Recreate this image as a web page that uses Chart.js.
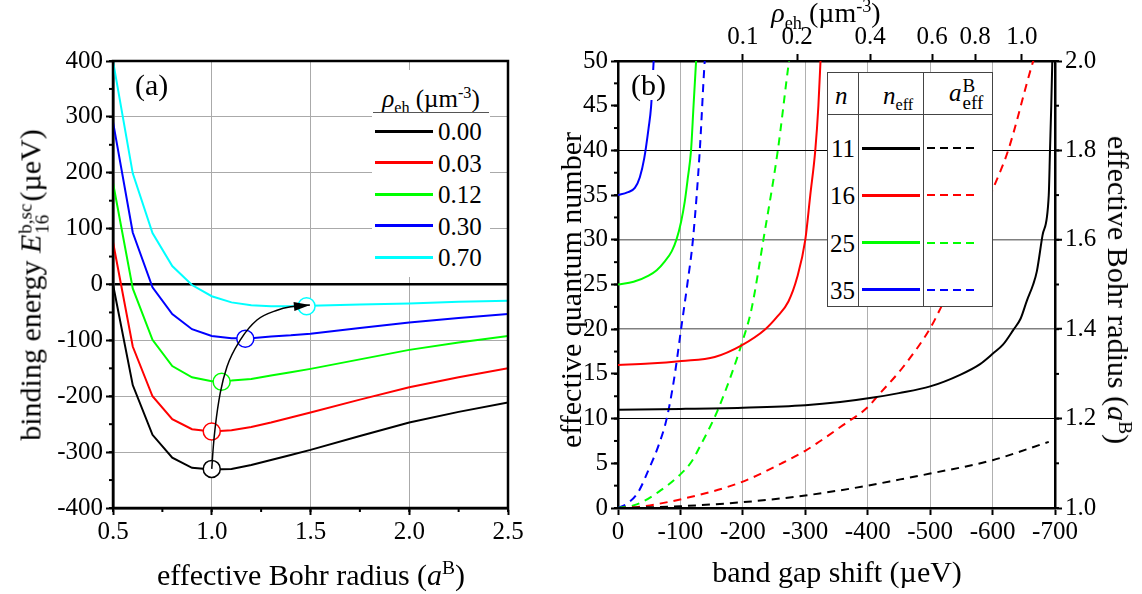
<!DOCTYPE html>
<html>
<head>
<meta charset="utf-8">
<script src="https://cdn.jsdelivr.net/npm/chart.js@4.4.1/dist/chart.umd.min.js"></script>
<style>
  body { margin: 0; background: #fff; overflow: hidden; }
  #wrap { position: relative; width: 1142px; height: 594px; font-family: 'Liberation Serif', 'Times New Roman', serif; color: #000; }
  canvas { position: absolute; top: 0; }
  .t { position: absolute; white-space: nowrap; line-height: 1; }
  .title { font-size: 30px; transform: translate(-50%, -50%); }
  .rotl { transform: translate(-50%, -50%) rotate(-90deg); }
  .rotr { transform: translate(-50%, -50%) rotate(90deg); }
  .stack { display: inline-block; vertical-align: -8px; font-size: 19px; line-height: 17px; margin: 0 2px 0 1px; }
  .stack span { display: block; }
  sub, sup { font-size: 65%; line-height: 0; }
  .panel { position: absolute; font-size: 30px; background: #fff; padding: 0 2px; }
  #legA { position: absolute; left: 372px; top: 70px; width: 118px; height: 207px; background: #fff; font-size: 25px; }
  #legA .head { position: absolute; left: 0; width: 118px; top: 16px; text-align: center; }
  #legA .rule { position: absolute; left: 1px; width: 116px; top: 42px; height: 0; border-top: 1.5px solid #555; }
  .swatch { position: absolute; height: 3px; }
  .dash { position: absolute; height: 2px; }
  #legB { position: absolute; left: 827px; top: 72px; width: 166px; height: 235px; background: #fff; border: 1.5px solid #444; box-sizing: border-box; font-size: 25px; }
  #legB .vl { position: absolute; top: 0; bottom: 0; width: 0; border-left: 1.5px solid #444; }
  #legB .hl { position: absolute; left: 0; right: 0; top: 41px; height: 0; border-top: 1.5px solid #444; }
</style>
</head>
<body>
<div id="wrap">
  <canvas id="chartA" width="560" height="594" style="left:0"></canvas>
  <canvas id="chartB" width="582" height="594" style="left:560px"></canvas>

  <div class="t panel" style="left:133px; top:70px;">(a)</div>
  <div class="t panel" style="left:629px; top:70px;">(b)</div>

  <div class="t title rotl" style="left:33px; top:285px;">binding energy <i>E</i><span class="stack"><span>b,sc</span><span>16</span></span>(µeV)</div>
  <div class="t title" style="left:311px; top:575px;">effective Bohr radius (<i>a</i><sup>B</sup>)</div>

  <div class="t title rotl" style="left:571px; top:290px;">effective quantum number</div>
  <div class="t title rotr" style="left:1118px; top:290px;">effective Bohr radius (<i>a</i><sup>B</sup>)</div>
  <div class="t title" style="left:837px; top:572px;">band gap shift (µeV)</div>
  <div class="t title" style="left:826px; top:13px; font-size:28px;"><i>ρ</i><sub>eh</sub> (µm<sup>-3</sup>)</div>

  <div id="legA">
    <div class="t head"><i>ρ</i><sub>eh</sub> (µm<sup>-3</sup>)</div>
    <div class="rule"></div>
  </div>
  <div id="legB">
    <div class="vl" style="left:30px"></div>
    <div class="vl" style="left:95px"></div>
    <div class="hl"></div>
    <div class="t" style="left:7px; top:10px;"><i>n</i></div>
    <div class="t" style="left:55px; top:10px;"><i>n</i><sub>eff</sub></div>
    <div class="t" style="left:121px; top:4px;"><i>a</i><span class="stack"><span>B</span><span>eff</span></span></div>
  </div>
</div>

<script>
// panel (a): binding energy vs. effective Bohr radius, one curve per density
const bohrRadius = [0.5, 0.6, 0.7, 0.8, 0.9, 1.0, 1.1, 1.2, 1.3, 1.4, 1.5, 1.75, 2.0, 2.25, 2.5];
const bind000 = [0, -180, -269, -310, -328, -331, -330, -323, -314, -305, -296, -271, -247, -228, -211];
const bind003 = [76, -111, -200, -241, -259, -263, -261, -255, -247, -238, -229, -206, -184, -166, -150];
const bind012 = [182, -7, -99, -146, -166, -173, -172, -169, -163, -157, -151, -134, -117, -104, -92];
const bind030 = [291, 93, -5, -53, -80, -92, -96, -96, -93, -91, -88, -78, -68, -60, -53];
const bind070 = [400, 199, 92, 33, -1, -21, -32, -37, -39, -39, -38, -36, -34, -31, -29];
const densityLabels = ['0.00', '0.03', '0.12', '0.30', '0.70'];
const densityColors = ['#000000', '#ff0000', '#00ff00', '#0000ff', '#00ffff'];

// minimum of each curve
const minRadius = [1.0, 1.0, 1.05, 1.17, 1.48];
const minEnergy = [-330, -263, -174, -97, -39];

// arrow through the minima
const arrowX = [1.0, 1.008, 1.018, 1.043, 1.077, 1.145, 1.229, 1.331, 1.40, 1.497];
const arrowY = [-330, -290, -254, -194, -147, -99, -63.5, -46, -40, -36.7];

// panel (b): effective quantum number (left axis) and Bohr radius (right axis) vs. band gap shift
const shiftN11 = [0, -100, -200, -300, -356, -409, -450, -500, -548, -580, -601, -617, -633, -645, -655, -665, -671, -680, -690, -692, -694, -696];
const nEff11 = [11.0, 11.08, 11.22, 11.5, 11.85, 12.35, 12.85, 13.6, 14.9, 16.1, 17.3, 18.3, 19.9, 21.2, 23.2, 25.0, 26.5, 30.5, 35.0, 40.0, 45.0, 51.0];
const shiftA11 = [0, -100, -200, -300, -400, -452, -500, -600, -690];
const aEff11 = [1.0, 1.004, 1.013, 1.028, 1.05, 1.064, 1.077, 1.107, 1.148];

const shiftN16 = [0, -50, -102, -155, -198, -236, -255, -273, -287, -300, -308, -316, -321, -325];
const nEff16 = [16.0, 16.15, 16.44, 16.9, 18.2, 20.0, 21.4, 23.1, 25.8, 30.0, 35.0, 40.0, 45.0, 51.0];
const shiftA16 = [0, -35, -102, -198, -262, -300, -321, -361, -398, -420, -457, -500, -516, -560, -601, -625, -663, -670];
const aEff16 = [1.0, 1.003, 1.02, 1.058, 1.10, 1.128, 1.147, 1.186, 1.223, 1.257, 1.316, 1.402, 1.445, 1.575, 1.715, 1.80, 1.99, 2.02];

const shiftN25 = [0, -25, -49, -62, -75, -86, -94, -101, -107, -112, -117, -121, -125.5];
const nEff25 = [25.0, 25.3, 26.0, 26.6, 27.6, 28.7, 30.1, 32.0, 34.3, 37.0, 40.0, 45.0, 50.5];
const shiftA25 = [0, -30, -65, -99, -118, -131, -161, -201, -214, -233, -256, -273, -275];
const aEff25 = [1.0, 1.008, 1.036, 1.074, 1.104, 1.137, 1.223, 1.38, 1.446, 1.601, 1.80, 1.99, 2.01];

const shiftN35 = [0, -15, -27, -35, -42, -49, -53, -57.5];
const nEff35 = [35.0, 35.3, 35.8, 37.0, 39.1, 42.5, 44.9, 50.5];
const shiftA35 = [0, -15, -32.5, -51, -65, -78, -90, -101, -111, -120, -131, -138, -140];
const aEff35 = [1.0, 1.01, 1.036, 1.092, 1.14, 1.20, 1.29, 1.40, 1.50, 1.60, 1.80, 1.98, 2.02];

const levelN = ['11', '16', '25', '35'];
const levelColors = ['#000000', '#ff0000', '#00ff00', '#0000ff'];

// density scale along the top of panel (b)
const topTickShift = [-200, -287, -404, -503, -572, -647];
const topTickLabels = ['0.1', '0.2', '0.4', '0.6', '0.8', '1.0'];

Chart.defaults.font.family = "'Liberation Serif', 'Times New Roman', serif";
Chart.defaults.font.size = 25;
Chart.defaults.color = '#000';

function pairs(xs, ys) {
  return xs.map((x, i) => ({ x: x, y: ys[i] }));
}

// short ticks between the labelled ones
const minorTicks = {
  id: 'minorTicks',
  afterDraw(chart, args, opts) {
    const ctx = chart.ctx;
    const len = 4;
    ctx.save();
    ctx.strokeStyle = '#000';
    ctx.lineWidth = 2;
    for (const [id, step] of Object.entries(opts.steps || {})) {
      const s = chart.scales[id];
      const n = Math.round((s.max - s.min) / step);
      for (let i = 0; i <= n; i++) {
        const p = s.getPixelForValue(s.min + i * step);
        ctx.beginPath();
        if (s.isHorizontal()) {
          const y0 = s.position === 'top' ? s.bottom : s.top;
          ctx.moveTo(p, y0);
          ctx.lineTo(p, y0 + (s.position === 'top' ? -len : len));
        } else {
          const x0 = s.position === 'left' ? s.right : s.left;
          ctx.moveTo(x0, p);
          ctx.lineTo(x0 + (s.position === 'left' ? -len : len), p);
        }
        ctx.stroke();
      }
    }
    ctx.restore();
  }
};

const frame = {
  id: 'frame',
  afterDraw(chart, args, opts) {
    if (!opts.on) return;
    const a = chart.chartArea;
    const ctx = chart.ctx;
    ctx.save();
    ctx.strokeStyle = '#000';
    ctx.lineWidth = 2.5;
    ctx.strokeRect(a.left, a.top, a.right - a.left, a.bottom - a.top);
    ctx.restore();
  }
};

const arrowHead = {
  id: 'arrowHead',
  afterDatasetsDraw(chart) {
    const idx = chart.data.datasets.findIndex(d => d.arrow);
    if (idx < 0) return;
    const pts = chart.getDatasetMeta(idx).data;
    const a = pts[pts.length - 2], b = pts[pts.length - 1];
    const ang = Math.atan2(b.y - a.y, b.x - a.x);
    const ctx = chart.ctx;
    ctx.save();
    ctx.translate(b.x, b.y);
    ctx.rotate(ang);
    ctx.beginPath();
    ctx.moveTo(0, 0);
    ctx.lineTo(-16, -4.5);
    ctx.lineTo(-16, 4.5);
    ctx.closePath();
    ctx.fillStyle = '#000';
    ctx.fill();
    ctx.restore();
  }
};

const axisBorder = { display: true, color: '#000', width: 2.5 };

// ---------- panel (a) ----------
const curvesA = [bind000, bind003, bind012, bind030, bind070].map((ys, i) => ({
  data: pairs(bohrRadius, ys),
  borderColor: densityColors[i],
  borderWidth: 2,
  pointRadius: 0,
  tension: 0,
  order: 3
}));

new Chart(document.getElementById('chartA'), {
  type: 'line',
  data: {
    datasets: [
      {
        arrow: true,
        data: pairs(arrowX, arrowY),
        borderColor: '#000',
        borderWidth: 1.5,
        pointRadius: 0,
        cubicInterpolationMode: 'monotone',
        order: 0
      },
      {
        data: pairs(minRadius, minEnergy),
        showLine: false,
        pointRadius: 8.5,
        pointBorderWidth: 1.5,
        pointBorderColor: densityColors,
        pointBackgroundColor: '#fff',
        order: 1
      },
      ...curvesA
    ]
  },
  options: {
    responsive: false,
    animation: false,
    events: [],
    layout: { padding: { top: 61, right: 52, left: 0, bottom: 0 } },
    plugins: {
      legend: { display: false },
      tooltip: { enabled: false },
      minorTicks: { steps: { x: 0.25, y: 50 } },
      frame: { on: true }
    },
    scales: {
      x: {
        type: 'linear',
        min: 0.5,
        max: 2.5,
        afterFit: s => { s.height = 86; },
        ticks: { stepSize: 0.5, autoSkip: false, maxRotation: 0, padding: 2, callback: v => v.toFixed(1) },
        grid: { color: '#aaa', lineWidth: 1, tickColor: '#000', tickWidth: 2, tickLength: 7 },
        border: axisBorder
      },
      y: {
        min: -400,
        max: 400,
        afterFit: s => { s.width = 113; },
        ticks: { stepSize: 100, padding: 3 },
        grid: {
          color: c => c.tick.value === 0 ? '#000' : '#aaa',
          lineWidth: c => c.tick.value === 0 ? 2.5 : 1,
          tickColor: '#000', tickWidth: 2, tickLength: 7
        },
        border: axisBorder
      }
    }
  },
  plugins: [minorTicks, frame, arrowHead]
});

// legend rows of panel (a)
const legA = document.getElementById('legA');
densityLabels.forEach((lab, i) => {
  const y = 61 + i * 31.5;
  const sw = document.createElement('div');
  sw.className = 'swatch';
  sw.style.cssText = `left:3px; width:58px; top:${y - 1.5}px; background:${densityColors[i]};`;
  legA.appendChild(sw);
  const tx = document.createElement('div');
  tx.className = 't';
  tx.style.cssText = `left:66px; top:${y - 12}px;`;
  tx.textContent = lab;
  legA.appendChild(tx);
});

// ---------- panel (b) ----------
const curvesB = [];
[[shiftN11, nEff11, shiftA11, aEff11],
 [shiftN16, nEff16, shiftA16, aEff16],
 [shiftN25, nEff25, shiftA25, aEff25],
 [shiftN35, nEff35, shiftA35, aEff35]].forEach(([sn, n, sa, a], i) => {
  curvesB.push({
    data: pairs(sn, n),
    yAxisID: 'y',
    borderColor: levelColors[i],
    borderWidth: 2,
    pointRadius: 0,
    cubicInterpolationMode: 'monotone'
  });
  curvesB.push({
    data: pairs(sa, a),
    yAxisID: 'y2',
    borderColor: levelColors[i],
    borderWidth: 2,
    borderDash: [8, 6],
    pointRadius: 0,
    cubicInterpolationMode: 'monotone'
  });
});

new Chart(document.getElementById('chartB'), {
  type: 'line',
  data: { datasets: curvesB },
  options: {
    responsive: false,
    animation: false,
    events: [],
    layout: { padding: 0 },
    plugins: {
      legend: { display: false },
      tooltip: { enabled: false },
      minorTicks: { steps: { y: 2.5, y2: 0.1 } }
    },
    scales: {
      x: {
        type: 'linear',
        position: 'bottom',
        reverse: true,
        min: -700,
        max: 0,
        afterFit: s => { s.height = 86; },
        ticks: { stepSize: 100, autoSkip: false, maxRotation: 0, padding: 2, callback: v => String(v) },
        grid: { color: '#b0b0b0', lineWidth: 1, tickColor: '#000', tickWidth: 2, tickLength: 7 },
        border: axisBorder
      },
      xTop: {
        type: 'linear',
        position: 'top',
        reverse: true,
        min: -700,
        max: 0,
        afterFit: s => { s.height = 61; },
        afterBuildTicks: s => { s.ticks = topTickShift.map(v => ({ value: v })); },
        ticks: { autoSkip: false, maxRotation: 0, padding: 2, callback: (v, i) => topTickLabels[i] },
        grid: { drawOnChartArea: false, tickColor: '#000', tickWidth: 2, tickLength: 7 },
        border: axisBorder
      },
      y: {
        position: 'left',
        min: 0,
        max: 50,
        afterFit: s => { s.width = 58; },
        ticks: { stepSize: 5, padding: 3 },
        grid: { drawOnChartArea: false, tickColor: '#000', tickWidth: 2, tickLength: 7 },
        border: axisBorder
      },
      y2: {
        position: 'right',
        min: 1,
        max: 2,
        afterFit: s => { s.width = 87; },
        ticks: { stepSize: 0.2, padding: 3, callback: v => v.toFixed(1) },
        grid: {
          color: c => {
            const v = Math.round(c.tick.value * 10);
            return (v === 14 || v === 16) ? '#808080' : '#000';
          },
          lineWidth: c => {
            const v = Math.round(c.tick.value * 10);
            return (v === 14 || v === 16) ? 1.5 : 1;
          },
          tickColor: '#000', tickWidth: 2, tickLength: 7
        },
        border: axisBorder
      }
    }
  },
  plugins: [minorTicks]
});

// legend table of panel (b)
const legB = document.getElementById('legB');
levelN.forEach((lab, i) => {
  const y = 75 + i * 47.3;
  const tx = document.createElement('div');
  tx.className = 't';
  tx.style.cssText = `right:${166 - 29}px; top:${y - 12}px;`;
  tx.textContent = lab;
  legB.appendChild(tx);
  const sw = document.createElement('div');
  sw.className = 'swatch';
  sw.style.cssText = `left:34px; width:58px; top:${y - 1.5}px; background:${levelColors[i]};`;
  legB.appendChild(sw);
  const da = document.createElement('div');
  da.className = 'dash';
  da.style.cssText = `left:99px; width:52px; top:${y - 1}px; background:repeating-linear-gradient(to right, ${levelColors[i]} 0 8px, transparent 8px 13px);`;
  legB.appendChild(da);
});
</script>
</body>
</html>
